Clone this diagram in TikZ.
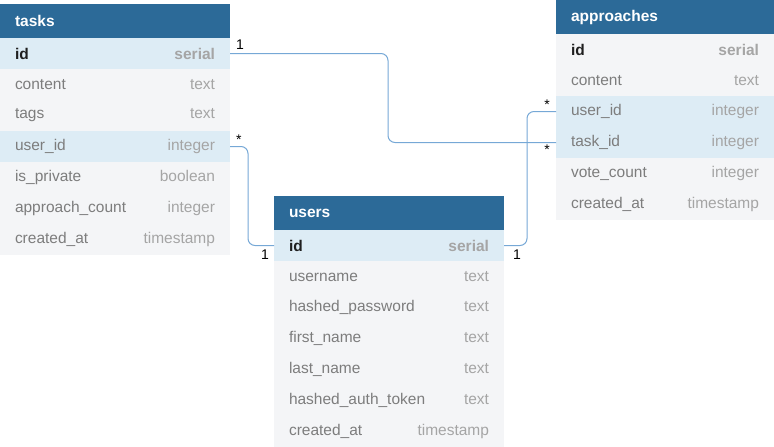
\documentclass[tikz,border=0pt]{standalone}
\usepackage{fontspec}
\setmainfont{Liberation Sans}
\usetikzlibrary{positioning}

\definecolor{headblue}{RGB}{44,106,152}
\definecolor{keyblue}{RGB}{221,236,245}
\definecolor{rowgray}{RGB}{244,245,247}
\definecolor{namegray}{RGB}{125,125,125}
\definecolor{typegray}{RGB}{165,165,165}
\definecolor{linkblue}{RGB}{118,168,214}

\newcommand{\fld}[2]{\textcolor{namegray}{#1}\hfill\textcolor{typegray}{#2}}
\newcommand{\pkey}[2]{\textbf{\textcolor{black!88}{#1}\hfill\textcolor{typegray}{#2}}}

\tikzset{
  head/.style={anchor=north west,fill=headblue,text=white,text width=#1,
    inner xsep=15pt,inner ysep=0pt,outer sep=0pt,minimum height=34pt,
    font=\fontsize{15.5}{18}\selectfont\bfseries},
  head/.default=200pt,
  fieldrow/.style={fill=rowgray,text width=#1,inner xsep=15pt,inner ysep=0pt,
    outer sep=0pt,minimum height=31pt},
  fieldrow/.default=200pt,
  keyrow/.style={fieldrow=#1,fill=keyblue},
  keyrow/.default=200pt,
  link/.style={draw=linkblue,line width=1pt,rounded corners=7pt},
  card/.style={font=\fontsize{14}{16}\selectfont,inner sep=1pt}
}

\begin{document}
\begin{tikzpicture}[x=1pt,y=-1pt,font=\fontsize{15.5}{18}\selectfont,node distance=0pt]
  \useasboundingbox (0,0) rectangle (774,447);

  % tasks
  \node[head] (th) at (0,4) {tasks};
  \node[keyrow] (t1) [below=of th] {\pkey{id}{serial}};
  \node[fieldrow] (t2) [below=of t1] {\fld{content}{text}};
  \node[fieldrow] (t3) [below=of t2] {\fld{tags}{text}};
  \node[keyrow] (t4) [below=of t3] {\fld{user\_id}{integer}};
  \node[fieldrow] (t5) [below=of t4] {\fld{is\_private}{boolean}};
  \node[fieldrow] (t6) [below=of t5] {\fld{approach\_count}{integer}};
  \node[fieldrow] (t7) [below=of t6] {\fld{created\_at}{timestamp}};

  % approaches
  \node[head=188pt] (ah) at (556,0) {approaches};
  \node[fieldrow=188pt] (a1) [below=of ah] {\pkey{id}{serial}};
  \node[fieldrow=188pt] (a2) [below=of a1] {\fld{content}{text}};
  \node[keyrow=188pt] (a3) [below=of a2] {\fld{user\_id}{integer}};
  \node[keyrow=188pt] (a4) [below=of a3] {\fld{task\_id}{integer}};
  \node[fieldrow=188pt] (a5) [below=of a4] {\fld{vote\_count}{integer}};
  \node[fieldrow=188pt] (a6) [below=of a5] {\fld{created\_at}{timestamp}};

  % users
  \node[head] (uh) at (274,196) {users};
  \node[keyrow] (u1) [below=of uh] {\pkey{id}{serial}};
  \node[fieldrow] (u2) [below=of u1] {\fld{username}{text}};
  \node[fieldrow] (u3) [below=of u2] {\fld{hashed\_password}{text}};
  \node[fieldrow] (u4) [below=of u3] {\fld{first\_name}{text}};
  \node[fieldrow] (u5) [below=of u4] {\fld{last\_name}{text}};
  \node[fieldrow] (u6) [below=of u5] {\fld{hashed\_auth\_token}{text}};
  \node[fieldrow] (u7) [below=of u6] {\fld{created\_at}{timestamp}};

  % links
  \draw[link] (t1.east) -- ++(158,0) |- (a4.west);
  \draw[link] (t4.east) -- ++(18,0) |- (u1.west);
  \draw[link] (u1.east) -- ++(23,0) |- (a3.west);

  \node[card,above right=3pt and 5pt of t1.east] (c1) {1};
  \node[card,above right=1pt and 5pt of t4.east] (c2) {*};
  \node[card,below left=3pt and 4pt of u1.west] (c3) {1};
  \node[card,below right=3pt and 8pt of u1.east] (c4) {1};
  \node[card,above left=1pt and 5pt of a3.west] (c5) {*};
  \node[card,below left=1pt and 5pt of a4.west] (c6) {*};
\end{tikzpicture}
\end{document}
